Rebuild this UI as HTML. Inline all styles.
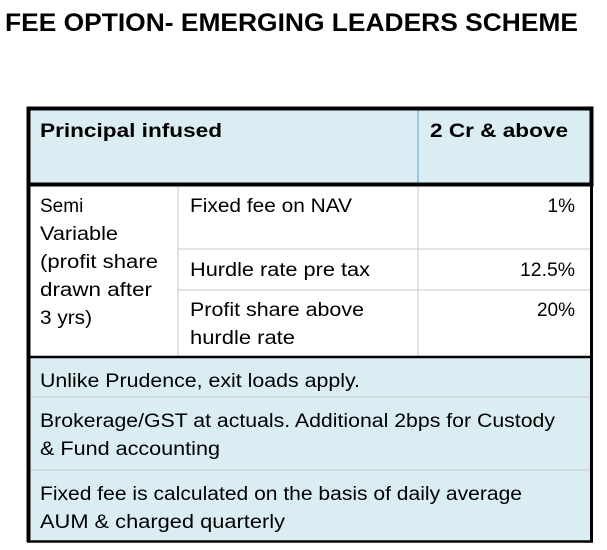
<!DOCTYPE html>
<html><head><meta charset="utf-8"><style>
html,body{margin:0;padding:0;background:#fff;}
svg{display:block;font-family:"Liberation Sans",sans-serif;}
</style></head><body>
<svg width="607" height="550" viewBox="0 0 607 550">
<text x="5" y="31" font-size="25" font-weight="bold" textLength="573" lengthAdjust="spacingAndGlyphs" fill="#000">FEE OPTION- EMERGING LEADERS SCHEME</text>

<rect x="27" y="107" width="565" height="78" fill="#daedf3"/>
<rect x="27" y="357" width="565" height="184" fill="#daedf3"/>
<rect x="27" y="185" width="565" height="172" fill="#fff"/>

<g stroke="#c8c8c8" stroke-width="1">
<line x1="178" y1="185" x2="178" y2="357"/>
<line x1="418" y1="185" x2="418" y2="357"/>
<line x1="178" y1="249" x2="592" y2="249"/>
<line x1="178" y1="290" x2="592" y2="290"/>
<line x1="27" y1="397" x2="592" y2="397"/>
<line x1="27" y1="470" x2="592" y2="470"/>
</g>
<line x1="418" y1="107" x2="418" y2="184" stroke="#5aa6c8" stroke-width="1"/>
<g stroke="#000" fill="none">
<rect x="28.5" y="108.5" width="563" height="76" stroke-width="4"/>
<line x1="28.5" y1="185" x2="28.5" y2="542" stroke-width="4"/>
<line x1="591.5" y1="185" x2="591.5" y2="542" stroke-width="3"/>
<line x1="27" y1="357" x2="592" y2="357" stroke-width="2.5"/>
<line x1="27" y1="541.5" x2="593" y2="541.5" stroke-width="2.5"/>
</g>

<g font-size="19" fill="#000">
<text x="40" y="137" font-weight="bold" textLength="182" lengthAdjust="spacingAndGlyphs">Principal infused</text>
<text x="430" y="137" font-weight="bold" textLength="138" lengthAdjust="spacingAndGlyphs">2 Cr &amp; above</text>
<g>
<text x="40" y="212">Semi</text>
<text x="40" y="240" textLength="78" lengthAdjust="spacingAndGlyphs">Variable</text>
<text x="40" y="268" textLength="118" lengthAdjust="spacingAndGlyphs">(profit share</text>
<text x="40" y="296" textLength="112" lengthAdjust="spacingAndGlyphs">drawn after</text>
<text x="40" y="324" textLength="52" lengthAdjust="spacingAndGlyphs">3 yrs)</text>
</g>
<text x="190" y="212" textLength="162" lengthAdjust="spacingAndGlyphs">Fixed fee on NAV</text>
<text x="575" y="212" text-anchor="end">1%</text>
<text x="190" y="276" textLength="180" lengthAdjust="spacingAndGlyphs">Hurdle rate pre tax</text>
<text x="575" y="276" text-anchor="end" textLength="55" lengthAdjust="spacingAndGlyphs">12.5%</text>
<g>
<text x="190" y="316" textLength="174" lengthAdjust="spacingAndGlyphs">Profit share above</text>
<text x="190" y="344" textLength="105" lengthAdjust="spacingAndGlyphs">hurdle rate</text>
</g>
<text x="575" y="316" text-anchor="end">20%</text>
<text x="40" y="387" textLength="320" lengthAdjust="spacingAndGlyphs">Unlike Prudence, exit loads apply.</text>
<g>
<text x="40" y="427" textLength="515" lengthAdjust="spacingAndGlyphs">Brokerage/GST at actuals. Additional 2bps for Custody</text>
<text x="40" y="455" textLength="180" lengthAdjust="spacingAndGlyphs">&amp; Fund accounting</text>
</g>
<g>
<text x="40" y="500" textLength="482" lengthAdjust="spacingAndGlyphs">Fixed fee is calculated on the basis of daily average</text>
<text x="40" y="528" textLength="245" lengthAdjust="spacingAndGlyphs">AUM &amp; charged quarterly</text>
</g>
</g>
</svg>
</body></html>
